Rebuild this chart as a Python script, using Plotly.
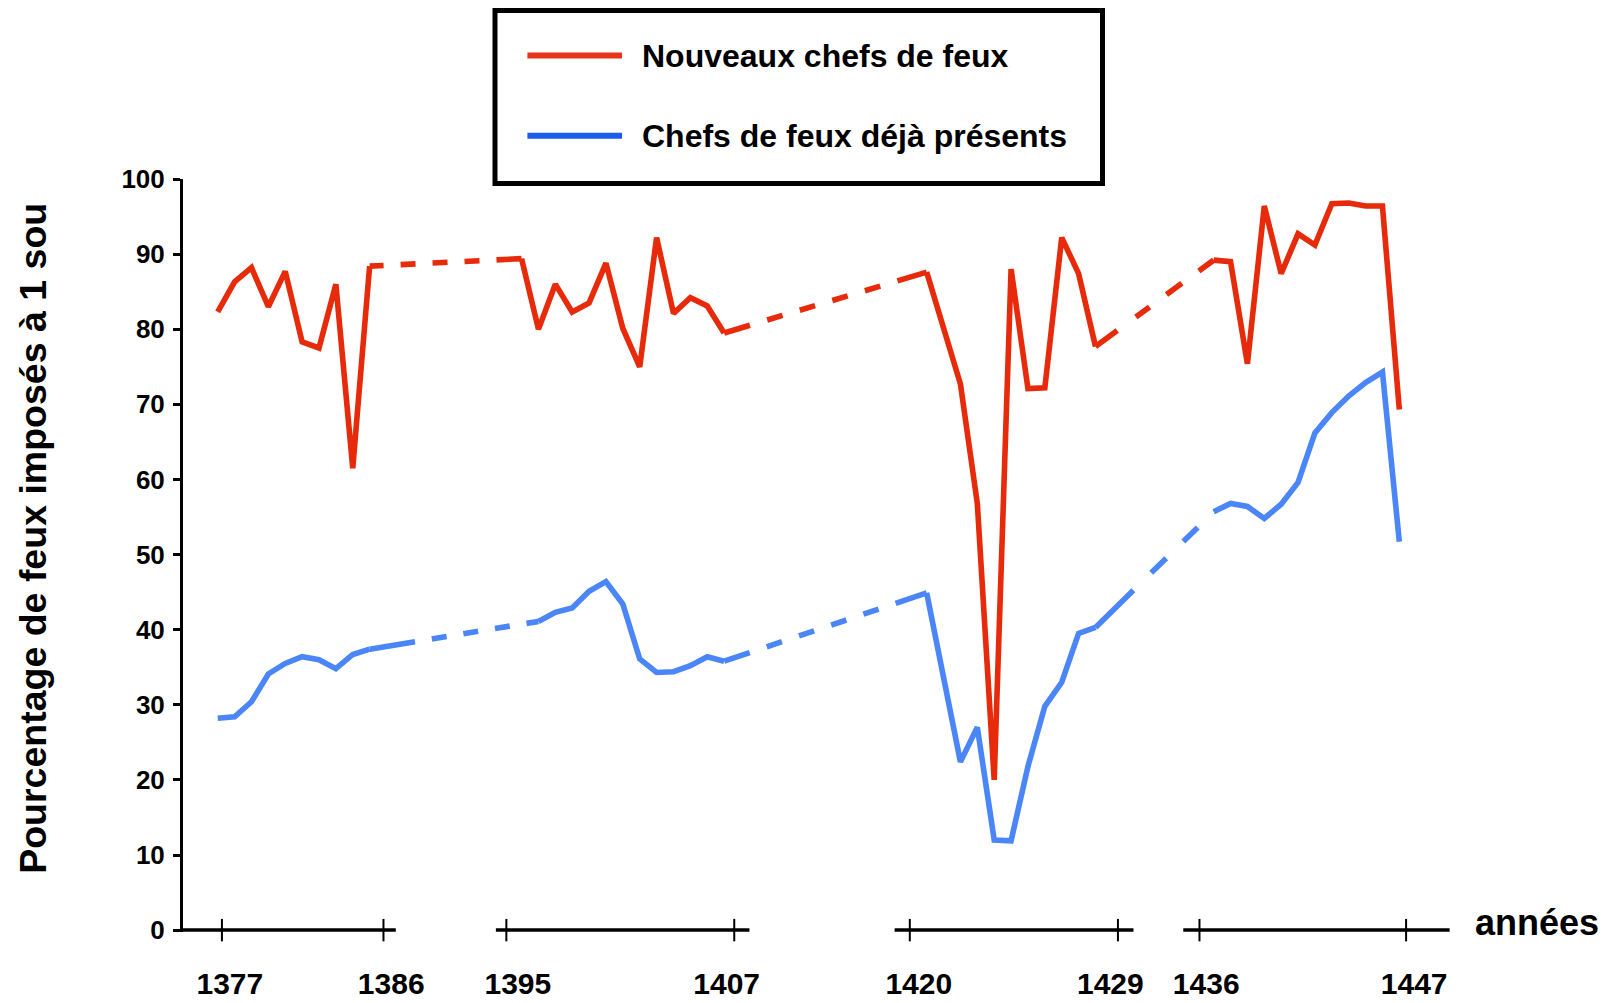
import plotly.graph_objects as go

# ---------------------------------------------------------------------------
# Data: share of households taxed at 1 sou, by observation slot.
# One unit on the horizontal scale = one yearly observation slot; the four
# runs of observations are separated by years without data.
# ---------------------------------------------------------------------------
tick_labels = ["1377", "1386", "1395", "1407", "1420", "1429", "1436", "1447"]
tick_pos = [0.25, 9.82, 17.1, 30.6, 41.0, 53.33, 58.16, 70.4]
label_pos = [0.72, 10.28, 17.78, 30.15, 41.53, 52.88, 58.56, 70.88]
axis_spans = [(-2.056, 10.55), (16.48, 31.5), (40.1, 54.25), (57.2, 72.98)]

# Nouveaux chefs de feux
red_x = [
    [0, 1, 2, 3, 4, 5, 6, 7, 8, 9],
    [18, 19, 20, 21, 22, 23, 24, 25, 26, 27, 28, 29, 30],
    [42, 44, 45, 46, 47, 48, 49, 50, 51, 52],
    [59, 60, 61, 62, 63, 64, 65, 66, 67, 68, 69, 70],
]
red_y = [
    [82.3, 86.3, 88.2, 83.0, 87.7, 78.3, 77.5, 86.0, 61.5, 88.4],
    [89.4, 80.0, 86.0, 82.3, 83.5, 88.8, 80.1, 75.0, 92.2, 82.1, 84.2, 83.1, 79.5],
    [87.6, 72.7, 56.8, 20.0, 88.0, 72.1, 72.2, 92.2, 87.4, 77.7],
    [89.2, 89.0, 75.4, 96.4, 87.4, 92.7, 91.2, 96.7, 96.8, 96.4, 96.4, 69.3],
]

# Chefs de feux déjà présents
blue_x = [
    [0, 1, 2, 3, 4, 5, 6, 7, 8, 9],
    [19, 20, 21, 22, 23, 24, 25, 26, 27, 28, 29, 30],
    [42, 44, 45, 46, 47, 48, 49, 50, 51, 52],
    [59, 60, 61, 62, 63, 64, 65, 66, 67, 68, 69, 70],
]
blue_y = [
    [28.2, 28.4, 30.4, 34.1, 35.5, 36.4, 36.0, 34.8, 36.7, 37.4],
    [41.1, 42.3, 42.9, 45.1, 46.4, 43.4, 36.1, 34.3, 34.4, 35.2, 36.4, 35.8],
    [44.9, 22.4, 27.0, 12.0, 11.9, 21.8, 29.8, 33.0, 39.5, 40.3],
    [55.7, 56.8, 56.4, 54.8, 56.7, 59.6, 66.2, 68.9, 71.1, 72.9, 74.3, 51.7],
]

series_names = ["Nouveaux chefs de feux", "Chefs de feux déjà présents"]

# ---------------------------------------------------------------------------
# Styling
# ---------------------------------------------------------------------------
RED = "#E62A0A"
BLUE = "#4A86F7"
RED_KEY = "#E8341A"
BLUE_KEY = "#1A5DEE"
FONT = "Liberation Sans, Arial, Helvetica, sans-serif"
LINE_W = 5.6

# dash patterns of the connectors bridging the years without data
red_gap_dash = [
    "14px,17px,15px,17px,15px,17px,15px,17px,80px",
    "27px,18px,16px,18px,16px,18px,16px,18px,16px,18px,80px",
    "27px,23px,17px,21px,19px,21px,80px",
]
blue_gap_dash = [
    "46px,17px,15px,17px,15px,17px,15px,17px,80px",
    "27px,18px,16px,18px,16px,18px,16px,18px,16px,18px,80px",
    "53px,25px,21px,24px,20px,25px,80px",
]

fig = go.Figure()


def add_series(xs, ys, color, dashes):
    for sx, sy in zip(xs, ys):
        fig.add_trace(go.Scatter(
            x=sx, y=sy, mode="lines",
            line=dict(color=color, width=LINE_W),
            showlegend=False, hoverinfo="skip",
        ))
    for i, dash in enumerate(dashes):
        fig.add_trace(go.Scatter(
            x=[xs[i][-1], xs[i + 1][0]],
            y=[ys[i][-1], ys[i + 1][0]],
            mode="lines",
            line=dict(color=color, width=LINE_W, dash=dash),
            showlegend=False, hoverinfo="skip",
        ))


add_series(red_x, red_y, RED, red_gap_dash)
add_series(blue_x, blue_y, BLUE, blue_gap_dash)

# broken horizontal axis
for x0, x1 in axis_spans:
    fig.add_trace(go.Scatter(
        x=[x0, x1], y=[0, 0], mode="lines",
        line=dict(color="black", width=3.5),
        showlegend=False, hoverinfo="skip",
    ))

# cross-shaped tick marks on the broken axis
fig.add_trace(go.Scatter(
    x=tick_pos, y=[0] * len(tick_pos), mode="markers",
    marker=dict(symbol="line-ns", size=16, color="black",
                line=dict(width=2, color="black")),
    cliponaxis=False, showlegend=False, hoverinfo="skip",
))

# ---------------------------------------------------------------------------
# Layout
# ---------------------------------------------------------------------------
L, R, T, B = 183, 160, 179, 70.7
W, H = 1612, 1003
PW, PH = W - L - R, H - T - B


def px(xp):
    return (xp - L) / PW


def py(yp):
    return (H - B - yp) / PH


fig.update_layout(
    width=W, height=H,
    margin=dict(l=L, r=R, t=T, b=B, autoexpand=False),
    paper_bgcolor="white", plot_bgcolor="white",
    showlegend=False,
    font=dict(family=FONT, color="black"),
    xaxis=dict(
        range=[-2.056, 73.12],
        showline=False, showgrid=False, zeroline=False,
        tickmode="array", tickvals=label_pos, ticktext=tick_labels,
        ticks="", ticklabelstandoff=31,
        tickfont=dict(family=FONT, size=30, weight="bold", color="black"),
    ),
    yaxis=dict(
        range=[-0.25, 100],
        showline=True, linewidth=3, linecolor="black",
        showgrid=False, zeroline=False,
        tickmode="array", tickvals=list(range(0, 101, 10)),
        ticks="outside", ticklen=7, tickwidth=3, tickcolor="black",
        ticklabelstandoff=3,
        tickfont=dict(family=FONT, size=26, weight="bold", color="black"),
    ),
)

# axis titles
fig.add_annotation(
    text="Pourcentage de feux imposés à 1 sou",
    xref="paper", yref="paper", x=px(33), y=py(539),
    xanchor="center", yanchor="middle", textangle=-90, showarrow=False,
    font=dict(family=FONT, size=37.5, weight="bold", color="black"),
)
fig.add_annotation(
    text="années",
    xref="paper", yref="paper", x=px(1537), y=py(923),
    xanchor="center", yanchor="middle", showarrow=False,
    font=dict(family=FONT, size=36, weight="bold", color="black"),
)

# legend box
fig.add_shape(
    type="rect", xref="paper", yref="paper",
    x0=px(495), x1=px(1102.5), y0=py(183.5), y1=py(10.5),
    line=dict(color="black", width=5), fillcolor="white", layer="above",
)
for yy, col, name in [(55.5, RED_KEY, series_names[0]),
                      (135.7, BLUE_KEY, series_names[1])]:
    fig.add_shape(
        type="line", xref="paper", yref="paper",
        x0=px(527.4), x1=px(622), y0=py(yy), y1=py(yy),
        line=dict(color=col, width=6), layer="above",
    )
    fig.add_annotation(
        text=name, xref="paper", yref="paper", x=px(640), y=py(yy),
        xanchor="left", yanchor="middle", showarrow=False,
        font=dict(family=FONT, size=32, weight="bold", color="black"),
    )

fig.write_html("out.html")
